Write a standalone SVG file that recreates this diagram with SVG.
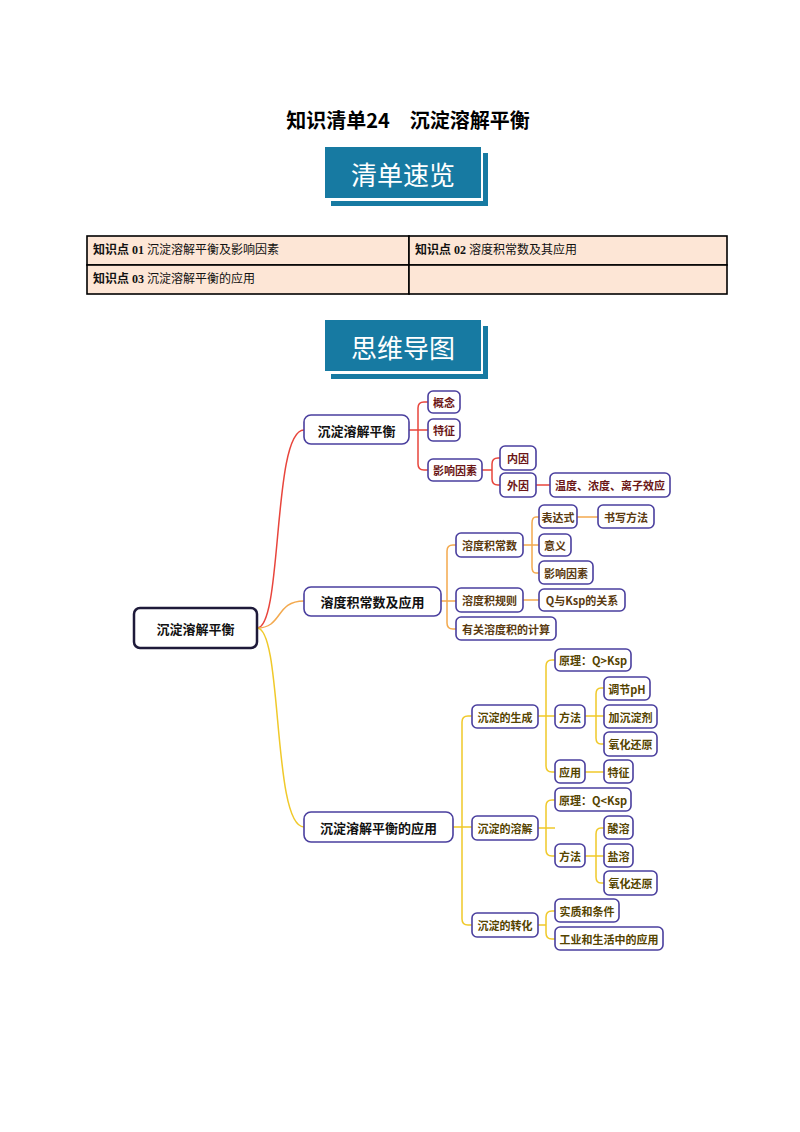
<svg xmlns="http://www.w3.org/2000/svg" width="800" height="1132" viewBox="0 0 800 1132">
<defs>
<style>
text{font-family:"Noto Sans CJK SC","Liberation Sans",sans-serif}
.n{fill:#fff;stroke:#4a3f9e;stroke-width:1.6}
.t{font-size:11px;font-weight:bold;text-anchor:middle;dominant-baseline:central}
.tr{fill:#6b1616}.to{fill:#5a3a10}.ty{fill:#554400}
.L1{font-size:13px;font-weight:bold;fill:#111;text-anchor:middle;dominant-baseline:central}
.cr{fill:none;stroke:#e8453c;stroke-width:1.5}
.co{fill:none;stroke:#f3a94e;stroke-width:1.5}
.cy{fill:none;stroke:#f0c92a;stroke-width:1.5}
.cell{fill:#fde6d6;stroke:#000;stroke-width:1.6}
.tb{font-size:12px;fill:#111}
.ban{fill:#177aa2}
.bsh{fill:#177aa2}
</style>
</defs>
<rect width="800" height="1132" fill="#fff"/>
<text x="408" y="128" font-size="20" font-weight="bold" text-anchor="middle" fill="#000">知识清单24　沉淀溶解平衡</text>

<g id="banner1">
<rect class="bsh" x="331" y="153" width="157" height="53"/>
<rect x="326" y="148" width="157" height="53" fill="#fff"/>
<rect class="ban" x="325" y="147" width="156" height="51"/>
<text x="403" y="173" font-size="26" fill="#fff" text-anchor="middle" dominant-baseline="central">清单速览</text>
</g>

<g id="table">
<rect class="cell" x="87" y="236" width="322" height="29"/>
<rect class="cell" x="409" y="236" width="318" height="29"/>
<rect class="cell" x="87" y="265" width="322" height="29"/>
<rect class="cell" x="409" y="265" width="318" height="29"/>
<text class="tb" x="93" y="254"><tspan font-weight="bold">知识点</tspan><tspan font-family="Liberation Serif" font-weight="bold"> 01 </tspan>沉淀溶解平衡及影响因素</text>
<text class="tb" x="415" y="254"><tspan font-weight="bold">知识点</tspan><tspan font-family="Liberation Serif" font-weight="bold"> 02 </tspan>溶度积常数及其应用</text>
<text class="tb" x="93" y="283"><tspan font-weight="bold">知识点</tspan><tspan font-family="Liberation Serif" font-weight="bold"> 03 </tspan>沉淀溶解平衡的应用</text>
</g>

<g id="banner2">
<rect class="bsh" x="331" y="326" width="157" height="53"/>
<rect x="326" y="321" width="157" height="53" fill="#fff"/>
<rect class="ban" x="325" y="320" width="156" height="51"/>
<text x="403" y="346" font-size="26" fill="#fff" text-anchor="middle" dominant-baseline="central">思维导图</text>
</g>

<g id="connectors">
<path class="cr" d="M257 628 C283 628 272 430 304 430"/>
<path class="co" d="M257 628 C283 628 275 601 304 601"/>
<path class="cy" d="M257 628 C283 628 272 827 304 827"/>
<!-- red -->
<path class="cr" d="M409 430 H428 M418 430 V408 Q418 402 424 402 H428 M418 430 V464 Q418 470 424 470 H428"/>
<path class="cr" d="M482 470 H492 M492 470 V464 Q492 458 498 458 H500 M492 470 V479 Q492 485 498 485 H500"/>
<path class="cr" d="M536 485 H550"/>
<!-- orange -->
<path class="co" d="M441 601 H456 M447 601 V551 Q447 545 453 545 H456 M447 601 V623 Q447 629 453 629 H456"/>
<path class="co" d="M523 545 H539 M532 545 V523 Q532 517 536 517 H539 M532 545 V567 Q532 573 536 573 H539"/>
<path class="co" d="M577 517 H598"/>
<path class="co" d="M523 600 H539"/>
<!-- yellow -->
<path class="cy" d="M453 827 H472 M462 827 V722 Q462 716 468 716 H472 M462 827 V919 Q462 925 468 925 H472"/>
<path class="cy" d="M538 716 H555 M546 716 V666 Q546 660 552 660 H555 M546 716 V766 Q546 772 552 772 H555"/>
<path class="cy" d="M585 716 H604 M596 716 V694 Q596 688 601 688 H604 M596 716 V738 Q596 744 601 744 H604"/>
<path class="cy" d="M585 772 H604"/>
<path class="cy" d="M538 828 H555 M546 828 V806 Q546 800 552 800 H555 M546 828 V850 Q546 856 552 856 H555"/>
<path class="cy" d="M585 856 H604 M596 856 V834 Q596 828 601 828 H604 M596 856 V877 Q596 883 601 883 H604"/>
<path class="cy" d="M538 925 H546 M546 925 V917 Q546 911 552 911 H555 M546 925 V933 Q546 939 552 939 H555"/>
</g>

<g id="root"><rect x="134" y="608" width="123" height="40" rx="6" fill="#fff" stroke="#1e1a3a" stroke-width="2.5"/><text class="L1" x="195.5" y="628">沉淀溶解平衡</text></g>
<g id="n1"><rect class="n" x="304" y="415" width="105" height="29" rx="7"/><text class="L1" x="356.5" y="430">沉淀溶解平衡</text></g>
<g id="n2"><rect class="n" x="304" y="587" width="137" height="29" rx="7"/><text class="L1" x="372.5" y="601">溶度积常数及应用</text></g>
<g id="n3"><rect class="n" x="304" y="812" width="149" height="30" rx="7"/><text class="L1" x="378.5" y="827">沉淀溶解平衡的应用</text></g>

<g id="gainian"><rect class="n" x="428" y="391" width="32" height="22" rx="5"/><text class="t tr" x="444" y="402">概念</text></g>
<g id="tezheng1"><rect class="n" x="428" y="419" width="32" height="22" rx="5"/><text class="t tr" x="444" y="430">特征</text></g>
<g id="yingxiang1"><rect class="n" x="428" y="459" width="54" height="22" rx="5"/><text class="t tr" x="455" y="470">影响因素</text></g>
<g id="neiyin"><rect class="n" x="500" y="446" width="36" height="24" rx="5"/><text class="t tr" x="518" y="458">内因</text></g>
<g id="waiyin"><rect class="n" x="500" y="473" width="36" height="24" rx="5"/><text class="t tr" x="518" y="485">外因</text></g>
<g id="wendu"><rect class="n" x="550" y="473" width="120" height="24" rx="5"/><text class="t tr" x="610" y="485">温度、浓度、离子效应</text></g>

<g id="ksp"><rect class="n" x="456" y="533" width="67" height="24" rx="5"/><text class="t to" x="489.5" y="545">溶度积常数</text></g>
<g id="guize"><rect class="n" x="456" y="588" width="67" height="24" rx="5"/><text class="t to" x="489.5" y="600">溶度积规则</text></g>
<g id="jisuan"><rect class="n" x="456" y="617" width="100" height="23" rx="5"/><text class="t to" x="506" y="628.5">有关溶度积的计算</text></g>
<g id="biaodashi"><rect class="n" x="539" y="505" width="38" height="23" rx="5"/><text class="t to" x="558" y="516.5">表达式</text></g>
<g id="shuxie"><rect class="n" x="598" y="505" width="56" height="23" rx="5"/><text class="t to" x="626" y="516.5">书写方法</text></g>
<g id="yiyi"><rect class="n" x="539" y="534" width="32" height="22" rx="5"/><text class="t to" x="555" y="545">意义</text></g>
<g id="yingxiang2"><rect class="n" x="539" y="561" width="54" height="23" rx="5"/><text class="t to" x="566" y="572.5">影响因素</text></g>
<g id="qksp"><rect class="n" x="539" y="589" width="86" height="22" rx="5"/><text class="t to" x="582" y="600">Q与Ksp的关系</text></g>

<g id="shengcheng"><rect class="n" x="472" y="705" width="66" height="23" rx="5"/><text class="t ty" x="505" y="716.5">沉淀的生成</text></g>
<g id="rongjie"><rect class="n" x="472" y="816" width="66" height="24" rx="5"/><text class="t ty" x="505" y="828">沉淀的溶解</text></g>
<g id="zhuanhua"><rect class="n" x="472" y="913" width="66" height="24" rx="5"/><text class="t ty" x="505" y="925">沉淀的转化</text></g>
<g id="yuanli1"><rect class="n" x="555" y="649" width="76" height="22" rx="5"/><text class="t ty" x="593" y="660">原理：Q&gt;Ksp</text></g>
<g id="fangfa1"><rect class="n" x="555" y="705" width="30" height="23" rx="5"/><text class="t ty" x="570" y="716.5">方法</text></g>
<g id="yingyong"><rect class="n" x="555" y="760" width="30" height="23" rx="5"/><text class="t ty" x="570" y="771.5">应用</text></g>
<g id="tiaojie"><rect class="n" x="604" y="677" width="46" height="23" rx="5"/><text class="t ty" x="627" y="688.5">调节pH</text></g>
<g id="jiachendian"><rect class="n" x="604" y="705" width="53" height="23" rx="5"/><text class="t ty" x="630.5" y="716.5">加沉淀剂</text></g>
<g id="yanghua1"><rect class="n" x="604" y="732" width="53" height="24" rx="5"/><text class="t ty" x="630.5" y="744">氧化还原</text></g>
<g id="tezheng2"><rect class="n" x="604" y="760" width="29" height="23" rx="5"/><text class="t ty" x="618.5" y="771.5">特征</text></g>
<g id="yuanli2"><rect class="n" x="555" y="788" width="76" height="23" rx="5"/><text class="t ty" x="593" y="799.5">原理：Q&lt;Ksp</text></g>
<g id="fangfa2"><rect class="n" x="555" y="844" width="30" height="23" rx="5"/><text class="t ty" x="570" y="855.5">方法</text></g>
<g id="suanrong"><rect class="n" x="604" y="816" width="29" height="23" rx="5"/><text class="t ty" x="618.5" y="827.5">酸溶</text></g>
<g id="yanrong"><rect class="n" x="604" y="844" width="29" height="23" rx="5"/><text class="t ty" x="618.5" y="855.5">盐溶</text></g>
<g id="yanghua2"><rect class="n" x="604" y="871" width="53" height="24" rx="5"/><text class="t ty" x="630.5" y="883">氧化还原</text></g>
<g id="shizhi"><rect class="n" x="555" y="899" width="64" height="23" rx="5"/><text class="t ty" x="587" y="910.5">实质和条件</text></g>
<g id="gongye"><rect class="n" x="555" y="927" width="108" height="23" rx="5"/><text class="t ty" x="609" y="938.5">工业和生活中的应用</text></g>
</svg>
